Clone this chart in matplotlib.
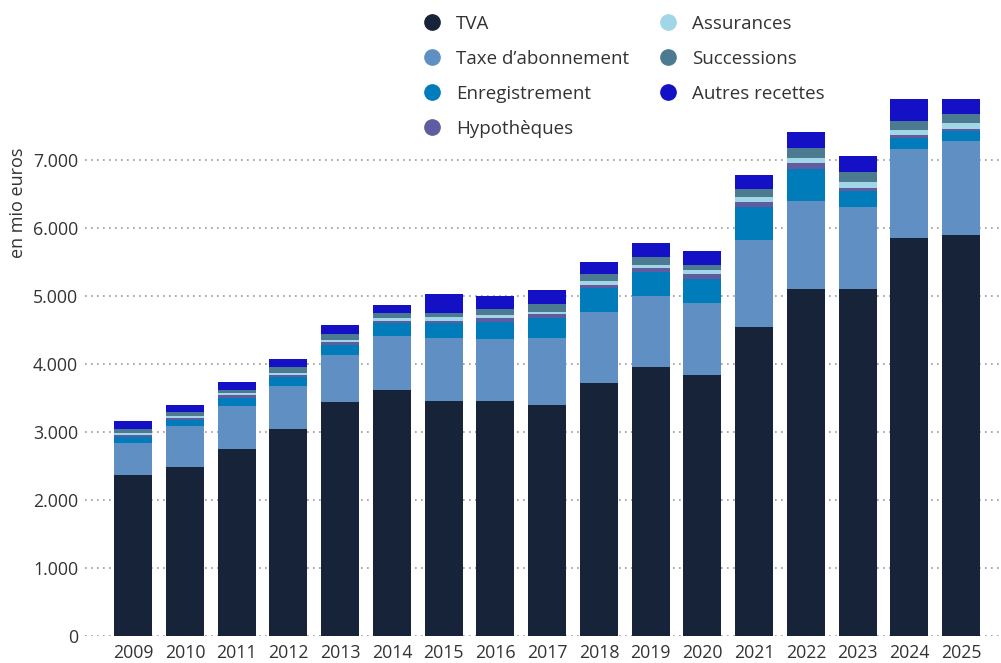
import matplotlib
matplotlib.use("Agg")
import matplotlib.pyplot as plt
from matplotlib.lines import Line2D
import numpy as np

plt.rcParams['font.family'] = ['Open Sans', 'DejaVu Sans']

years = ["2009", "2010", "2011", "2012", "2013", "2014", "2015", "2016", "2017",
         "2018", "2019", "2020", "2021", "2022", "2023", "2024", "2025"]

tva = [2368, 2485, 2750, 3044, 3441, 3618, 3456, 3456, 3397, 3721, 3956, 3838, 4544, 5103, 5103, 5853, 5897]
taxe_abonnement = [470, 603, 632, 632, 691, 794, 926, 912, 985, 1044, 1044, 1059, 1279, 1294, 1206, 1309, 1382]
enregistrement = [88, 93, 122, 128, 143, 187, 216, 250, 294, 353, 353, 353, 485, 471, 235, 162, 147]
hypotheques = [34, 29, 39, 34, 49, 34, 34, 59, 59, 44, 59, 74, 74, 88, 44, 44, 29]
assurances = [25, 29, 29, 29, 29, 44, 59, 44, 29, 59, 44, 59, 74, 74, 88, 74, 88]
successions = [59, 54, 44, 88, 88, 74, 59, 88, 118, 103, 118, 74, 118, 147, 147, 132, 132]
autres_recettes = [118, 103, 118, 118, 132, 118, 279, 191, 206, 176, 206, 206, 206, 235, 235, 324, 221]

series_names = ["TVA", "Taxe d\u2019abonnement", "Enregistrement", "Hypothèques",
                "Assurances", "Successions", "Autres recettes"]
series_values = [tva, taxe_abonnement, enregistrement, hypotheques,
                 assurances, successions, autres_recettes]
colors = ["#162339", "#5f8fc3", "#007cba", "#615ba0", "#a0d6e6", "#4c7a90", "#1310c5"]

fig = plt.figure(figsize=(10.01, 6.63), dpi=100)
W, H = 1001, 663
ax = fig.add_axes([85 / W, (H - 636) / H, (1000 - 85) / W, (636 - 90) / H])

x = np.arange(len(years))
bottom = np.zeros(len(years))
for name, vals, c in zip(series_names, series_values, colors):
    v = np.array(vals, dtype=float)
    ax.bar(x, v, bottom=bottom, width=0.735, color=c, linewidth=0, zorder=3)
    bottom += v

ax.set_xlim(-0.93, 16.75)
ax.set_ylim(0, (636 - 90) / 0.068)
ax.set_yticks(np.arange(0, 7001, 1000))
ax.set_yticklabels([f"{int(t):,}".replace(",", ".") for t in np.arange(0, 7001, 1000)])
ax.set_xticks(x)
ax.set_xticklabels(years)
ax.tick_params(axis='both', length=0, labelsize=12.8, colors="#333333")
ax.tick_params(axis='y', pad=5)
ax.tick_params(axis='x', pad=6)
ax.grid(axis='y', linestyle=(0, (1, 2.6)), color="#999999", linewidth=1.2, zorder=0)
for s in ax.spines.values():
    s.set_visible(False)

fig.text(18 / W, 1 - 203 / H, "en mio euros", rotation=90, ha='center', va='center',
         fontsize=13, color="#333333")

# legend drawn manually in two columns
col_x = [432, 668]
row_y = [22, 57, 92, 127]
for i, (name, c) in enumerate(zip(series_names, colors)):
    col = 0 if i < 4 else 1
    row = i if i < 4 else i - 4
    cx, cy = col_x[col], row_y[row]
    fig.add_artist(Line2D([cx / W], [1 - cy / H], marker='o', linestyle='none',
                          markersize=11, markerfacecolor=c, markeredgecolor=c,
                          transform=fig.transFigure))
    fig.text((cx + 24) / W, 1 - cy / H, name, ha='left', va='center_baseline',
             fontsize=13.5, color="#333333")

fig.savefig("out.png", dpi=100)
